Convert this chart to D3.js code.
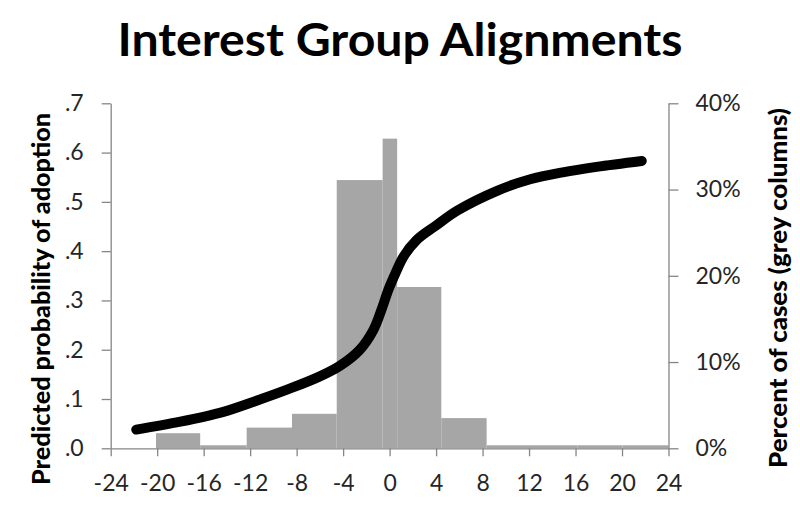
<!DOCTYPE html>
<html>
<head>
<meta charset="utf-8">
<script src="https://cdn.jsdelivr.net/npm/d3@7"></script>
<style>
  html, body { margin: 0; padding: 0; background: #fff; }
  svg { display: block; }
</style>
</head>
<body>
<svg id="chart" width="800" height="508"></svg>
<script>
// ---- data ----
const binStart = [-20.1, -16.3, -12.3, -8.4, -4.55, -0.6, 0.65, 4.45, 8.35, 12.25, 16.15, 20.05];
const binEnd   = [-16.3, -12.3, -8.4, -4.55, -0.6, 0.65, 4.45, 8.35, 12.25, 16.15, 20.05, 24];
const binPct   = [0.0175, 0.0035, 0.024, 0.040, 0.311, 0.359, 0.187, 0.035, 0.0035, 0.0035, 0.0035, 0.0035];

const lineX = [-21.8, -18.0, -14.3, -11.4, -8.6, -6.0, -4.3, -2.6, -1.4, -0.7, -0.1, 0.5, 1.2, 2.3, 4.0, 5.8, 9.2, 12.1, 14.9, 17.8, 21.7];
const lineY = [0.038, 0.054, 0.074, 0.097, 0.121, 0.146, 0.167, 0.199, 0.240, 0.281, 0.322, 0.355, 0.389, 0.422, 0.452, 0.482, 0.522, 0.546, 0.560, 0.571, 0.583];

const xTicks = [-24, -20, -16, -12, -8, -4, 0, 4, 8, 12, 16, 20, 24];
const leftTicks = [0, 0.1, 0.2, 0.3, 0.4, 0.5, 0.6, 0.7];
const leftTickLabels = [".0", ".1", ".2", ".3", ".4", ".5", ".6", ".7"];
const rightTicks = [0, 0.1, 0.2, 0.3, 0.4];
const rightTickLabels = ["0%", "10%", "20%", "30%", "40%"];

const title = "Interest Group Alignments";
const leftTitle = "Predicted probability of adoption";
const rightTitle = "Percent of cases (grey columns)";

// ---- layout ----
const svg = d3.select("#chart");
const x = d3.scaleLinear().domain([-24, 24]).range([110.7, 668.5]);
const yL = d3.scaleLinear().domain([0, 0.7]).range([448.3, 103.3]);
const yR = d3.scaleLinear().domain([0, 0.4]).range([448.3, 103.3]);

const axisColor = "#868686";
const textColor = "#262626";
const font = "Lato, 'Open Sans', sans-serif";

// bars
svg.append("g").selectAll("rect")
  .data(binPct.map((p, i) => ({ s: binStart[i], e: binEnd[i], p })))
  .join("rect")
  .attr("x", d => x(d.s))
  .attr("width", d => x(d.e) - x(d.s))
  .attr("y", d => yR(d.p))
  .attr("height", d => yR(0) - yR(d.p))
  .attr("fill", "#a6a6a6");

// axes
function styleAxis(g) {
  g.selectAll(".domain").attr("stroke", axisColor).attr("stroke-width", 1.3);
  g.selectAll(".tick line").attr("stroke", axisColor).attr("stroke-width", 1.3);
  g.selectAll(".tick text").attr("fill", textColor).style("font-family", font).style("font-size", "23px");
}

svg.append("g").attr("transform", `translate(0,${yL(0)})`)
  .call(d3.axisBottom(x).tickValues(xTicks).tickSize(8).tickSizeOuter(0).tickPadding(18).tickFormat(d => d))
  .call(styleAxis);

svg.append("g").attr("transform", `translate(${x(-24)},0)`)
  .call(d3.axisLeft(yL).tickValues(leftTicks).tickSize(9).tickSizeOuter(0).tickPadding(18)
    .tickFormat((d, i) => leftTickLabels[i]))
  .call(styleAxis);

svg.append("g").attr("transform", `translate(${x(24)},0)`)
  .call(d3.axisRight(yR).tickValues(rightTicks).tickSize(10).tickSizeOuter(0).tickPadding(17)
    .tickFormat((d, i) => rightTickLabels[i]))
  .call(styleAxis);

// line
const line = d3.line()
  .x((d, i) => x(lineX[i]))
  .y((d, i) => yL(lineY[i]))
  .curve(d3.curveCatmullRom.alpha(0.5));

svg.append("path")
  .datum(lineX)
  .attr("d", line)
  .attr("fill", "none")
  .attr("stroke", "#000")
  .attr("stroke-width", 10)
  .attr("stroke-linecap", "round")
  .attr("stroke-linejoin", "round");

// titles
svg.append("text")
  .attr("x", 400).attr("y", 56)
  .attr("text-anchor", "middle")
  .attr("textLength", 565).attr("lengthAdjust", "spacingAndGlyphs")
  .style("font-family", font).style("font-weight", "bold").style("font-size", "46px")
  .attr("fill", "#000")
  .text(title);

svg.append("text")
  .attr("transform", "translate(40,299) rotate(-90)")
  .attr("text-anchor", "middle").attr("dominant-baseline", "central")
  .attr("textLength", 372).attr("lengthAdjust", "spacingAndGlyphs")
  .style("font-family", font).style("font-weight", "900").style("font-size", "24px")
  .attr("fill", "#000")
  .text(leftTitle);

svg.append("text")
  .attr("transform", "translate(777,288) rotate(-90)")
  .attr("text-anchor", "middle").attr("dominant-baseline", "central")
  .attr("textLength", 360).attr("lengthAdjust", "spacingAndGlyphs")
  .style("font-family", font).style("font-weight", "900").style("font-size", "24px")
  .attr("fill", "#000")
  .text(rightTitle);
</script>
</body>
</html>
